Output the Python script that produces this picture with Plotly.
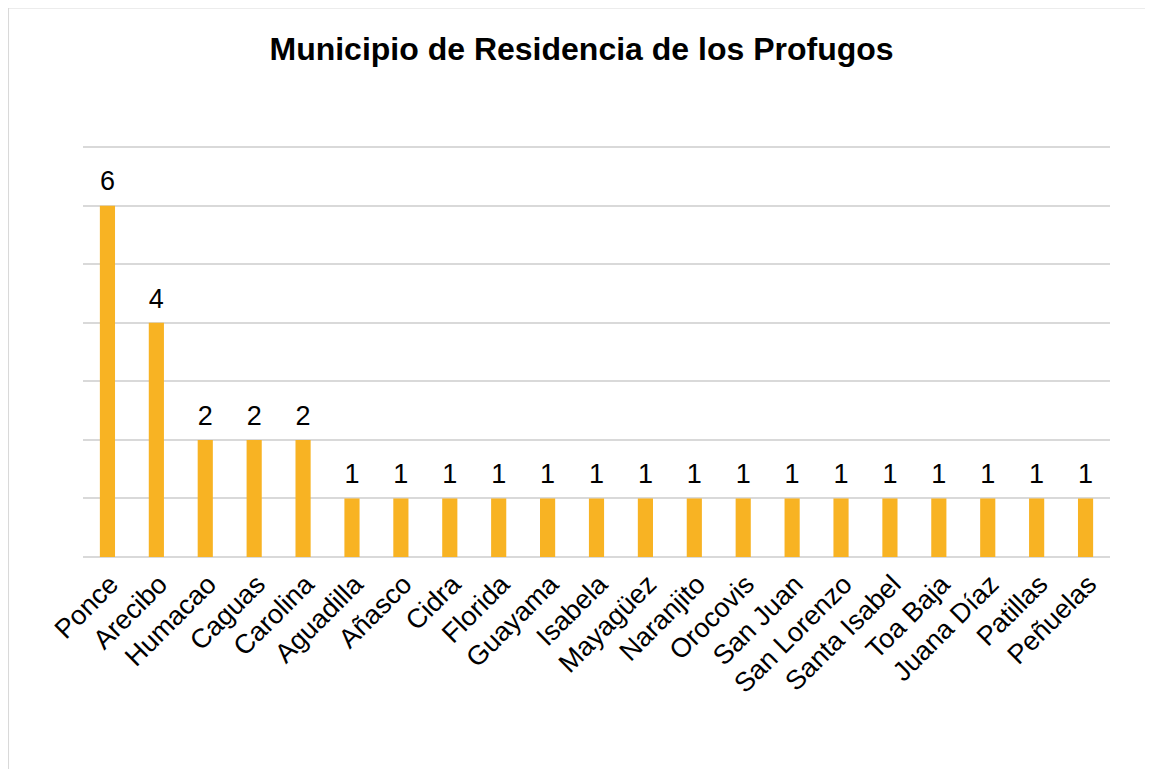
import plotly.graph_objects as go

municipios = ["Ponce", "Arecibo", "Humacao", "Caguas", "Carolina", "Aguadilla", "Añasco",
              "Cidra", "Florida", "Guayama", "Isabela", "Mayagüez", "Naranjito", "Orocovis",
              "San Juan", "San Lorenzo", "Santa Isabel", "Toa Baja", "Juana Díaz",
              "Patillas", "Peñuelas"]
profugos = [6, 4, 2, 2, 2, 1, 1, 1, 1, 1, 1, 1, 1, 1, 1, 1, 1, 1, 1, 1, 1]

font = "Liberation Sans, Arial, sans-serif"

fig = go.Figure()
fig.add_trace(go.Bar(
    x=municipios, y=profugos,
    marker=dict(color="#F8B323", line=dict(width=0)),
    hoverinfo="x+y",
))
# value labels, lifted a bit above the bars like the original
fig.add_trace(go.Scatter(
    x=municipios, y=profugos, mode="markers+text",
    marker=dict(size=12, opacity=0),
    text=[str(v) for v in profugos], textposition="top center",
    textfont=dict(size=27, color="#000000", family=font),
    cliponaxis=False, hoverinfo="skip",
))

fig.update_layout(
    width=1145, height=761,
    margin=dict(l=75, r=43, t=138, b=212),
    plot_bgcolor="white", paper_bgcolor="white",
    bargap=0.69,
    showlegend=False,
    title=dict(text="<b>Municipio de Residencia de los Profugos</b>",
               x=0.5009, xanchor="center", y=0.947, yanchor="middle",
               font=dict(size=32, color="#000000", family=font)),
    font=dict(family=font, color="#000000"),
    shapes=[dict(type="rect", xref="paper", yref="paper",
                 x0=-0.073, x1=1.2, y0=-0.8, y1=1.337,
                 line=dict(color="#D9D9D9", width=2), layer="below")],
)
fig.update_xaxes(range=[-0.5, len(municipios) - 0.5], tickangle=-45,
                 tickfont=dict(size=27, family=font, color="#000000"),
                 ticklabelstandoff=5, ticklabelshift=3,
                 showgrid=False, showline=False, ticks="")
fig.update_yaxes(range=[0, 7.02], tickvals=[0, 1, 2, 3, 4, 5, 6, 7],
                 showticklabels=False, showgrid=True,
                 gridcolor="#D9D9D9", gridwidth=1.5, zeroline=True,
                 zerolinecolor="#D9D9D9", zerolinewidth=1.5)

fig.write_html("out.html")
